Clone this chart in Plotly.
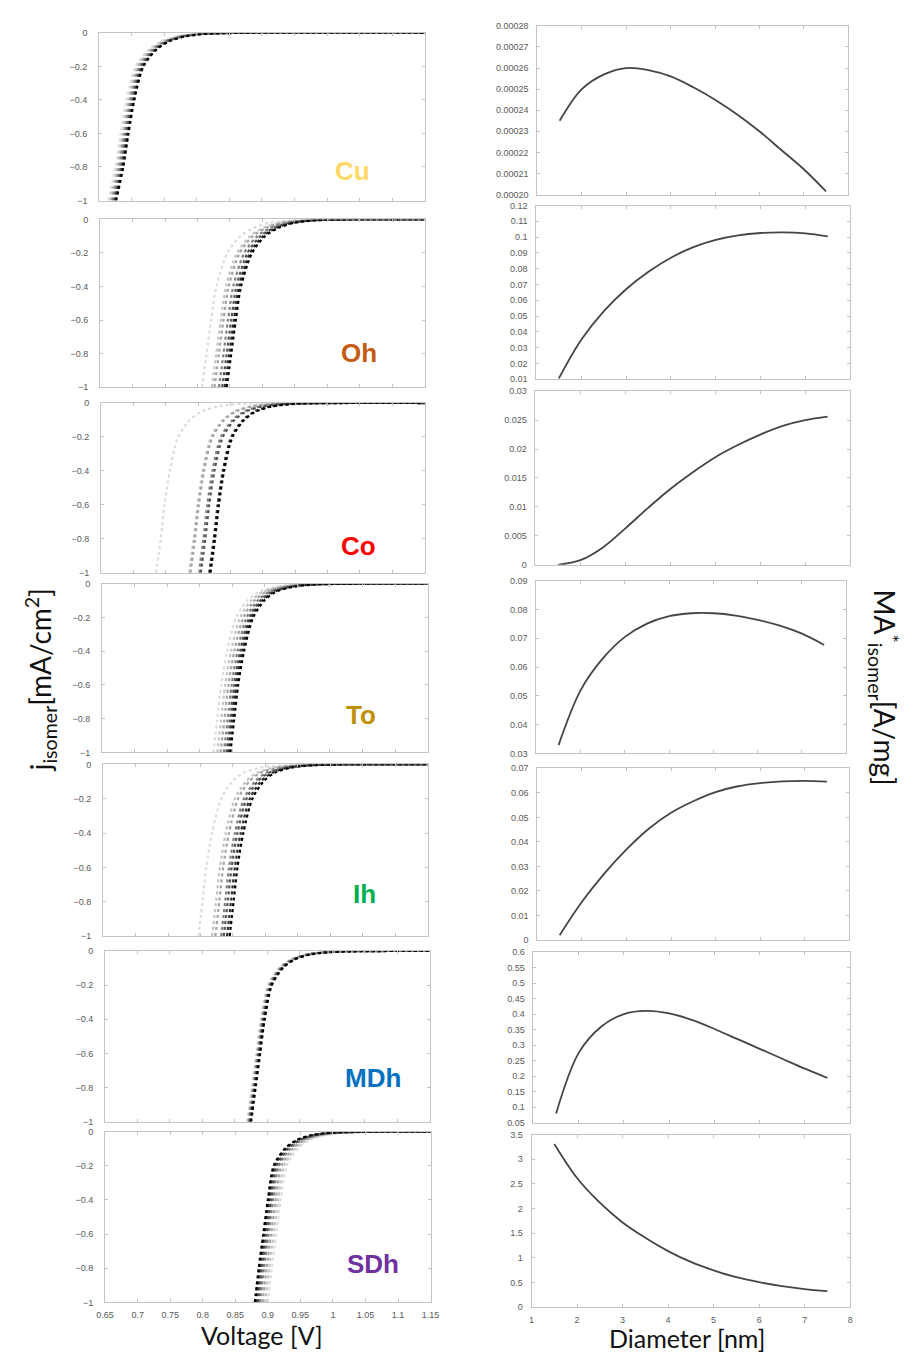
import plotly.graph_objects as go

W, H = 917, 1358

# ---------------- data ----------------
PANELS = ["Cu", "Oh", "Co", "To", "Ih", "MDh", "SDh"]
LABEL_COLORS = ["#FFD966", "#C55A11", "#FF0000", "#BF9000", "#00B050", "#0070C0", "#7030A0"]

# curves in every polarisation panel (one per particle diameter, light -> dark)
CURVE_DIAMETERS = [1.5, 2.5, 3.5, 4.5, 5.5, 6.5, 7.5]
CURVE_GRAYS = ["#dcdcdc", "#c2c2c2", "#a2a2a2", "#7e7e7e", "#555555", "#2c2c2c", "#000000"]

J_LEVELS = [-1.0, -0.8, -0.6, -0.4, -0.2, -0.1, -0.05, -0.02, -0.005, 0.0]

# voltage where each curve reaches j = -1 (light -> dark)
ONSET_CU = [0.664, 0.667, 0.669, 0.671, 0.673, 0.675, 0.676]
ONSET_OH = [0.807, 0.822, 0.826, 0.833, 0.838, 0.842, 0.845]
ONSET_CO = [0.735, 0.786, 0.788, 0.801, 0.804, 0.817, 0.819]
ONSET_TO = [0.821, 0.827, 0.832, 0.837, 0.841, 0.844, 0.847]
ONSET_IH = [0.797, 0.818, 0.823, 0.832, 0.836, 0.841, 0.845]
ONSET_MDH = [0.869, 0.870, 0.871, 0.872, 0.873, 0.874, 0.875]
ONSET_SDH = [0.900, 0.896, 0.892, 0.888, 0.885, 0.882, 0.880]

# voltage rise above the onset at each j level
DV_CU = [0, 0.011, 0.019, 0.028, 0.042, 0.062, 0.082, 0.108, 0.145]
DV_OH = [0, 0.007, 0.014, 0.022, 0.039, 0.059, 0.080, 0.105, 0.140]
DV_CO = [0, 0.007, 0.013, 0.021, 0.034, 0.052, 0.070, 0.095, 0.130]
DV_TO = [0, 0.006, 0.012, 0.021, 0.035, 0.052, 0.069, 0.094, 0.130]
DV_IH = [0, 0.006, 0.012, 0.021, 0.035, 0.052, 0.069, 0.094, 0.130]
DV_MDH = [0, 0.007, 0.014, 0.021, 0.032, 0.049, 0.067, 0.092, 0.130]
DV_SDH = [0, 0.006, 0.013, 0.020, 0.029, 0.046, 0.064, 0.088, 0.125]
V_END = 1.15

ONSETS = [ONSET_CU, ONSET_OH, ONSET_CO, ONSET_TO, ONSET_IH, ONSET_MDH, ONSET_SDH]
DVS = [DV_CU, DV_OH, DV_CO, DV_TO, DV_IH, DV_MDH, DV_SDH]

# mass activity vs diameter
DIAM = [1.5, 2.0, 2.5, 3.0, 3.5, 4.0, 4.5, 5.0, 5.5, 6.0, 6.5, 7.0, 7.5]
MA_CU = [0.000235, 0.000250, 0.000257, 0.000260, 0.000259, 0.000256, 0.000251,
         0.000245, 0.000238, 0.000230, 0.000221, 0.000212, 0.0002015]
MA_OH = [0.0105, 0.0350, 0.0530, 0.0670, 0.0780, 0.0869, 0.0936, 0.0982,
         0.1011, 0.1026, 0.1030, 0.1024, 0.1005]
MA_CO = [0.0000, 0.0008, 0.0030, 0.0063, 0.0098, 0.0131, 0.0160, 0.0186,
         0.0207, 0.0225, 0.0240, 0.0250, 0.0256]
MA_TO = [0.0329, 0.0520, 0.0630, 0.0705, 0.0751, 0.0777, 0.0787, 0.0787,
         0.0779, 0.0764, 0.0744, 0.0716, 0.0677]
MA_IH = [0.0020, 0.0156, 0.0271, 0.0370, 0.0454, 0.0519, 0.0566, 0.0603,
         0.0627, 0.0640, 0.0647, 0.0649, 0.0646]
MA_MDH = [0.080, 0.275, 0.360, 0.400, 0.410, 0.402, 0.381, 0.352,
          0.320, 0.288, 0.256, 0.224, 0.194]
MA_SDH = [3.31, 2.62, 2.12, 1.72, 1.41, 1.14, 0.92, 0.75, 0.61, 0.51, 0.43, 0.37, 0.33]
MA_SERIES = [MA_CU, MA_OH, MA_CO, MA_TO, MA_IH, MA_MDH, MA_SDH]

MA_RANGES = [[0.0002, 0.00028], [0.01, 0.12], [0, 0.03], [0.03, 0.09],
             [0, 0.07], [0.05, 0.6], [0, 3.5]]
MA_DTICKS = [0.00001, 0.01, 0.005, 0.01, 0.01, 0.05, 0.5]
MA_FORMATS = [".5f", "", "", "", "", "", ""]

V_TICKS = [0.65, 0.7, 0.75, 0.8, 0.85, 0.9, 0.95, 1, 1.05, 1.1, 1.15]
J_TICKS = [0, -0.2, -0.4, -0.6, -0.8, -1]

# ---------------- layout geometry (pixels) ----------------
LEFT_BOX = [(92, 424, 28, 197), (93, 424, 216, 385), (94, 424, 401, 572),
            (95, 427, 583, 753), (96, 427, 765, 938), (98, 429, 953, 1125),
            (98, 430, 1135, 1307)]
RIGHT_BOX = [(539, 856, 21, 191), (538, 858, 202, 377), (537, 858, 389, 564),
             (538, 854, 580, 754), (539, 857, 769, 942), (535, 858, 954, 1126),
             (533, 858, 1138, 1312)]
LABEL_POS = [(350, 167), (357, 351), (356, 545), (359, 715), (363, 896), (371, 1081), (371, 1268)]

fig = go.Figure()
layout = {}

def dom_x(a, b):
    return [a / W, b / W]

def dom_y(top, bot):
    return [1 - bot / H, 1 - top / H]

tick_font = dict(family="Liberation Sans, Arial", size=9, color="#5a5a5a")
axis_style = dict(showgrid=False, zeroline=False, showline=True, linecolor="#c4c4c4",
                  linewidth=1, mirror="ticks", ticks="inside", ticklen=3,
                  tickcolor="#c4c4c4", tickfont=tick_font)

for i in range(7):
    # left polarisation panel
    n = 2 * i + 1
    xa, ya = f"x{n}", f"y{n}"
    for k in range(len(CURVE_DIAMETERS)):
        v = [ONSETS[i][k] + d for d in DVS[i]] + [V_END]
        fig.add_trace(go.Scatter(x=v, y=J_LEVELS, mode="lines", xaxis=xa, yaxis=ya,
                                 line=dict(color=CURVE_GRAYS[k], width=2.2, dash="dot",
                                           shape="spline", smoothing=0.8),
                                 showlegend=False, hoverinfo="skip"))
    l, r, t, b = LEFT_BOX[i]
    layout[f"xaxis{n}"] = dict(axis_style, domain=dom_x(l, r), anchor=ya, range=[0.65, 1.15],
                               tickvals=V_TICKS, showticklabels=(i == 6), ticklabelstandoff=4)
    layout[f"yaxis{n}"] = dict(axis_style, domain=dom_y(t, b), anchor=xa, range=[-1, 0],
                               tickvals=J_TICKS, ticklabelstandoff=9)

    # right mass-activity panel
    m = 2 * i + 2
    xb, yb = f"x{m}", f"y{m}"
    fig.add_trace(go.Scatter(x=DIAM, y=MA_SERIES[i], mode="lines", xaxis=xb, yaxis=yb,
                             line=dict(color="#454545", width=1.8, shape="spline", smoothing=1.0),
                             showlegend=False))
    l, r, t, b = RIGHT_BOX[i]
    layout[f"xaxis{m}"] = dict(axis_style, domain=dom_x(l, r), anchor=yb, range=[1, 8],
                               dtick=1, showticklabels=(i == 6), ticklabelstandoff=4)
    ydict = dict(axis_style, domain=dom_y(t, b), anchor=xb, range=MA_RANGES[i],
                 dtick=MA_DTICKS[i], tick0=MA_RANGES[i][0], ticklabelstandoff=6)
    if MA_FORMATS[i]:
        ydict["tickformat"] = MA_FORMATS[i]
    layout[f"yaxis{m}"] = ydict

annotations = []
for i, name in enumerate(PANELS):
    x, y = LABEL_POS[i]
    annotations.append(dict(x=x / W, y=1 - y / H, xref="paper", yref="paper", text=f"<b>{name}</b>",
                            xanchor="center", yanchor="middle", showarrow=False,
                            font=dict(family="Liberation Sans, Arial", size=26,
                                      color=LABEL_COLORS[i])))

title_font = dict(family="Lato, Open Sans", size=28, color="#111111")
annotations += [
    dict(x=33 / W, y=1 - 680 / H, xref="paper", yref="paper", showarrow=False, textangle=-90,
         xanchor="center", yanchor="middle",
         text="j<sub>isomer</sub>[mA/cm<sup>2</sup>]", font=title_font),
    dict(x=892 / W, y=1 - 688 / H, xref="paper", yref="paper", showarrow=False, textangle=90,
         xanchor="center", yanchor="middle",
         text="MA<sup>*</sup><sub>isomer</sub>[A/mg]", font=title_font),
    dict(x=258 / W, y=1 - 1340 / H, xref="paper", yref="paper", showarrow=False,
         xanchor="center", yanchor="middle",
         text="Voltage [V]", font=dict(family="Lato, Open Sans", size=25, color="#111111")),
    dict(x=692 / W, y=1 - 1343 / H, xref="paper", yref="paper", showarrow=False,
         xanchor="center", yanchor="middle",
         text="Diameter [nm]", font=dict(family="Lato, Open Sans", size=25, color="#111111")),
]

fig.update_layout(width=W, height=H, margin=dict(l=0, r=0, t=0, b=0),
                  paper_bgcolor="white", plot_bgcolor="white",
                  annotations=annotations, showlegend=False, **layout)

fig.write_html("out.html")
